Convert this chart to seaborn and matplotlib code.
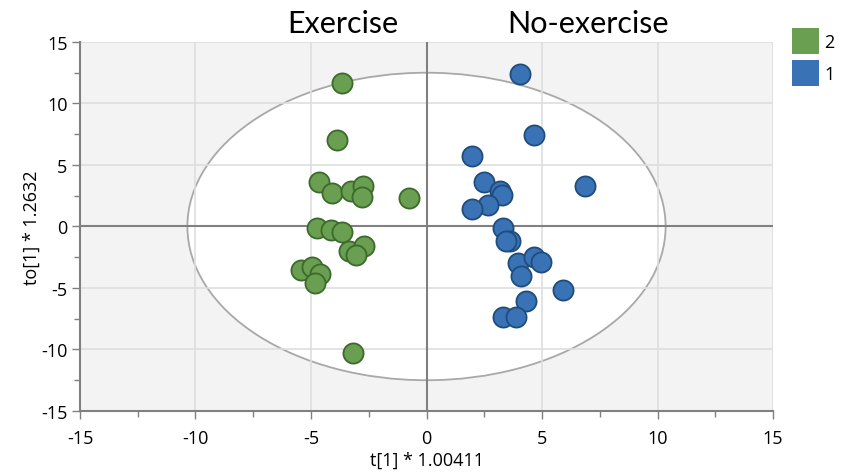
import numpy as np
import pandas as pd
import seaborn as sns
import matplotlib.pyplot as plt
from matplotlib.patches import Ellipse
from matplotlib.ticker import MultipleLocator

# Scores
ex_t = [-3.65, -3.88, -4.66, -4.11, -3.26, -2.73, -2.81, -0.74, -4.73, -4.13,
        -3.67, -3.36, -2.71, -3.04, -5.42, -4.95, -4.63, -4.81, -3.19]
ex_to = [11.63, 7.02, 3.60, 2.74, 2.87, 3.33, 2.41, 2.33, -0.14, -0.30,
         -0.46, -2.00, -1.60, -2.33, -3.50, -3.28, -3.85, -4.63, -10.27]
noex_t = [4.03, 4.65, 1.95, 6.85, 2.48, 3.19, 3.28, 2.65, 1.95, 3.33,
          3.62, 3.45, 3.95, 4.65, 4.96, 4.10, 5.93, 4.32, 3.30, 3.88]
noex_to = [12.38, 7.45, 5.72, 3.28, 3.60, 2.87, 2.52, 1.71, 1.44, -0.16,
           -1.20, -1.20, -3.00, -2.47, -2.90, -4.04, -5.18, -6.07, -7.37, -7.37]
group_labels = ["2", "1"]
group_titles = ["Exercise", "No-exercise"]

# Hotelling T2 ellipse semi-axes
ell_a, ell_b = 10.35, 12.5

df = pd.DataFrame({
    "t": ex_t + noex_t,
    "to": ex_to + noex_to,
    "group": ["2"] * len(ex_t) + ["1"] * len(noex_t),
})

sns.set_style("white")
plt.rcParams["font.family"] = ["Open Sans", "DejaVu Sans"]
plt.rcParams["axes.unicode_minus"] = False
plt.rcParams["text.color"] = "black"
plt.rcParams["axes.labelcolor"] = "black"
plt.rcParams["xtick.color"] = "black"
plt.rcParams["ytick.color"] = "black"

fig = plt.figure(figsize=(8.48, 4.77), dpi=100)
ax = fig.add_axes([0.0943, 0.1363, 0.8173, 0.7736])
ax.set_facecolor("#f3f3f3")
ax.set_axisbelow(True)

ax.add_patch(Ellipse((0, 0), 2 * ell_a, 2 * ell_b, facecolor="white",
                     edgecolor="#a8a8a8", lw=1.3, zorder=0.3))
ax.grid(True, color="#dedede", lw=1.2)
ax.axhline(0, color="#808080", lw=1.5, zorder=1)
ax.axvline(0, color="#808080", lw=1.5, zorder=1)

palette = {"2": "#6a9e50", "1": "#3a73b5"}
edges = {"2": "#3c6a2c", "1": "#1f4c7c"}
for g in group_labels:
    sub = df[df["group"] == g]
    sns.scatterplot(data=sub, x="t", y="to", color=palette[g], s=210,
                    edgecolor=edges[g], linewidth=1.3, ax=ax, zorder=3)

ax.set_xlim(-15, 15)
ax.set_ylim(-15, 15)
ax.xaxis.set_major_locator(MultipleLocator(5))
ax.yaxis.set_major_locator(MultipleLocator(5))
ax.xaxis.set_minor_locator(MultipleLocator(2.5))
ax.yaxis.set_minor_locator(MultipleLocator(2.5))
ax.tick_params(which="major", length=6, width=1, color="#808080", labelsize=13,
               labelcolor="black", bottom=True, left=True)
ax.tick_params(axis="x", which="major", pad=7)
ax.tick_params(axis="y", which="major", pad=3)
ax.tick_params(which="minor", length=4, width=1, color="#808080",
               bottom=True, left=True)
for side in ["top", "right"]:
    ax.spines[side].set_visible(False)
for side in ["left", "bottom"]:
    ax.spines[side].set_color("#808080")
    ax.spines[side].set_linewidth(1.5)

ax.set_xlabel("t[1] * 1.00411", fontsize=13, labelpad=3)
ax.set_ylabel("to[1] * 1.2632", fontsize=13, labelpad=0)

fig.text(0.404, 0.931, group_titles[0], ha="center", va="baseline",
         fontsize=22, family=["Lato", "DejaVu Sans"])
fig.text(0.693, 0.931, group_titles[1], ha="center", va="baseline",
         fontsize=22, family=["Lato", "DejaVu Sans"])

handles = [plt.Rectangle((0, 0), 1, 1, facecolor=palette[g], edgecolor="none")
           for g in group_labels]
fig.legend(handles, group_labels, loc="upper left", bbox_to_anchor=(0.934, 0.94),
           frameon=False, fontsize=13, handlelength=1.5, handleheight=1.9,
           handletextpad=0.3, labelspacing=0.3, borderaxespad=0, borderpad=0)

fig.savefig("out.png", dpi=100)
